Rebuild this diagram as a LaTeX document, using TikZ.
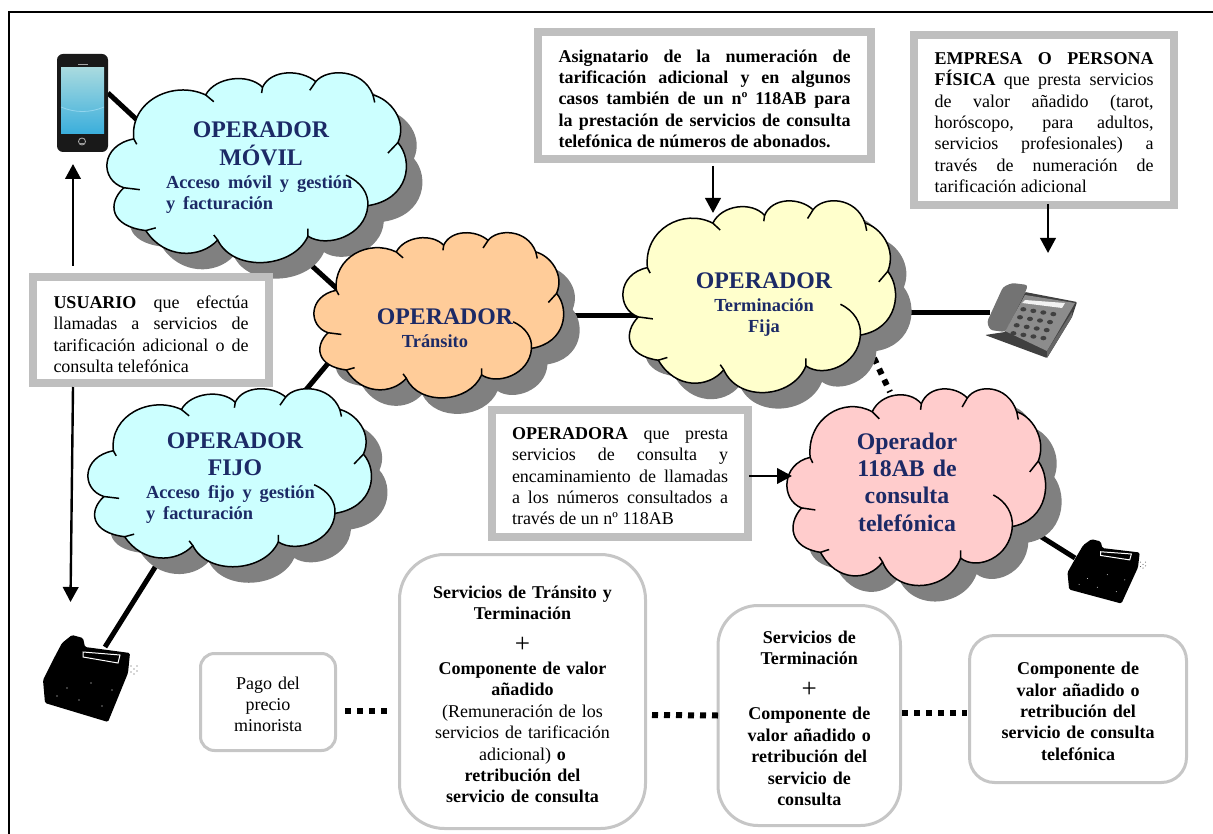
\documentclass[tikz,border=0pt]{standalone}
\usepackage{fontspec}
\setmainfont{Liberation Serif}
\usetikzlibrary{arrows.meta}
\definecolor{navyop}{HTML}{1C2A66}
\definecolor{grisbox}{HTML}{BFBFBF}
\definecolor{grisround}{HTML}{C6C6C6}
\definecolor{sombra}{HTML}{808080}
\definecolor{cieloop}{HTML}{CCFFFF}
\definecolor{naranjaop}{HTML}{FFCC99}
\definecolor{amarilloop}{HTML}{FFFFCC}
\definecolor{rosaop}{HTML}{FFCCCC}
\definecolor{pantallaA}{HTML}{A8DADF}
\definecolor{pantallaB}{HTML}{1B6DB5}
\definecolor{pantallaC}{HTML}{3AAEDC}
\pgfdeclarelayer{conn}
\pgfdeclarelayer{nube}
\pgfsetlayers{conn,nube,main}
\tikzset{
  framebox/.style={draw=grisbox,line width=8pt,fill=white,inner sep=0pt,outer sep=0pt,align=justify,
    font=\fontsize{18}{21.4}\selectfont\sloppy},
  roundbox/.style={draw=grisround,line width=3pt,fill=white,inner sep=0pt,outer sep=0pt,align=center,
    font=\fontsize{18}{21.4}\selectfont},
  optext/.style={text=navyop,inner sep=0pt,outer sep=0pt,anchor=base,align=center,
    font=\fontsize{23.8}{27.4}\selectfont\bfseries},
  phonebox/.style={inner sep=0pt,outer sep=0pt},
  linea/.style={line width=5pt},
  puntos/.style={line width=6pt,dash pattern=on 6pt off 6pt},
  flecha/.style={line width=2.4pt,-{Triangle[width=15.5pt,length=15pt]}}
}
\newcommand{\subop}{\par\vspace{2pt}\fontsize{18.4}{21}\selectfont\bfseries}
\newcommand{\masop}{\par{\fontsize{27}{33}\selectfont +\par}\vspace{.5pt}}
\newcommand{\tope}[1]{\rule{0pt}{#1}}
\newcommand{\fin}{\rule[-4pt]{0pt}{0pt}}
\newcommand{\cloudpath}{
  (5.6,60) .. controls (-2.5,56) and (-2.3,38) .. (8.9,34.7)
  .. controls (7.5,15) and (22,4) .. (32.8,11.9)
  .. controls (36,2.5) and (47,.5) .. (51.7,7.9)
  .. controls (54.5,-1.5) and (64.5,-1.5) .. (69.4,5)
  .. controls (73,-2) and (85,-2) .. (88.4,11.9)
  .. controls (94,14) and (100,25) .. (96.7,36.6)
  .. controls (102,46) and (100.5,66) .. (86.7,69.3)
  .. controls (86,85) and (73,91.5) .. (66.8,85.1)
  .. controls (62,102) and (42,104) .. (36.8,87.1)
  .. controls (31,97) and (19,97) .. (12.9,82.2)
  .. controls (1,80) and (0,68) .. (5.6,60) -- cycle}
% x, y, width, height, fill
\newcommand{\opcloud}[5]{
  \begin{pgfonlayer}{nube}
  \begin{scope}[shift={(#1,#2)},x=#3*0.01pt,y=-#4*0.01pt]
    \fill[sombra,xshift=16pt,yshift=-16pt] \cloudpath;
    \draw[fill=#5,line width=1.5pt,line join=round] \cloudpath;
    \draw[line width=1.5pt] (8.9,34.7) -- (9.9,37.5) (32.8,11.9) -- (35.5,15.4) (51.7,7.9) -- (51.4,10.9)
      (69.4,5) -- (67.4,9.5) (88.4,11.9) -- (89,15.8) (96.7,36.6) -- (93.4,42)
      (66.8,85.1) -- (66.8,81.2) (36.8,87.1) -- (35.5,84.5) (12.9,82.2) -- (16.2,80.8) (5.6,60) -- (10.9,61);
    \draw[line width=1.5pt] (79.4,53.5) .. controls (84.5,57) and (87,63) .. (86.7,69.3);
  \end{scope}
  \end{pgfonlayer}
}
\newcommand{\blackphone}[4]{
  \begin{scope}[shift={(#1,#2)},xscale=#3,yscale=#4]
    \fill[black,rounded corners=1.5pt] (-25,-35) -- (-15,-43) -- (-4,-40) -- (-2,-31) -- (43,-25) -- (41,-5)
      -- (21,44) -- (-42,25) -- (-44,2) -- (-34,-18) -- cycle;
    \draw[white,line width=1pt] (-4,-26) -- (33,-23) -- (31,-15) -- (-4,-21) -- cycle;
    \foreach \px/\py in {-20/10,-8/22,4/5,15/28,-30/18,25/12}
      \fill[white] (\px,\py) circle (.6pt);
    \foreach \px/\py in {44/-12,47/-9,50/-12,44/-6,47/-4,50/-7}
      \fill[black!70] (\px,\py) circle (.7pt);
  \end{scope}
}
\begin{document}
\begin{tikzpicture}[x=1pt,y=-1pt]
\useasboundingbox (0,0) rectangle (1213,834);
\draw[line width=2pt] (8.5,834) -- (8.5,12) -- (1213,12);
% nubes
\opcloud{107}{72}{301}{193}{cieloop}
\opcloud{314}{232}{251}{168}{naranjaop}
\opcloud{623}{200}{274}{195}{amarilloop}
\opcloud{88}{388}{285}{181}{cieloop}
\opcloud{787}{388}{260}{200}{rosaop}
\node[optext,text width=190pt] (movil) at (261,138) {OPERADOR\\MÓVIL\subop\raggedright Acceso móvil y gestión\\y facturación\par};
\node[optext,text width=178pt] (fijo) at (235,448) {OPERADOR\\FIJO\subop\raggedright Acceso fijo y gestión\\y facturación\par};
\node[optext,text width=140pt] (transito) at (445,325) {OPERADOR\subop\hspace*{-20pt}Tránsito\par};
\node[optext,text width=140pt] (terminacion) at (764,289) {OPERADOR\subop Terminación\\Fija\par};
\node[optext,text width=140pt] (consulta) at (907,449) {Operador\\118AB de\\consulta\\telefónica};
% cuadros
\node[framebox,text width=195pt,minimum width=236pt,minimum height=106pt] (usuario) at (151,330)
  {\tope{25pt}\textbf{USUARIO} que efectúa\linebreak llamadas a servicios de\linebreak tarificación adicional o de\linebreak consulta telefónica\fin};
\node[framebox,text width=292pt,minimum width=333pt,minimum height=127pt] (asignatario) at (704.5,95.5)
  {\tope{23pt}\bfseries Asignatario de la numeración de\linebreak tarificación adicional y en algunos\linebreak casos también de un nº 118AB para\linebreak la prestación de servicios de consulta\linebreak telefónica de números de abonados.\fin};
\node[framebox,line width=7.5pt,text width=219pt,minimum width=260pt,minimum height=170pt] (empresa) at (1044,120)
  {\tope{21pt}\textbf{EMPRESA O PERSONA}\linebreak \textbf{FÍSICA} que presta servicios\linebreak de valor añadido (tarot,\linebreak horóscopo, para adultos,\linebreak servicios profesionales) a\linebreak través de numeración de\linebreak tarificación adicional\fin};
\node[framebox,text width=216pt,minimum width=256pt,minimum height=127pt] (operadora) at (620,473.5)
  {\tope{21pt}\textbf{OPERADORA} que presta\linebreak servicios de consulta y\linebreak encaminamiento de llamadas\linebreak a los números consultados a\linebreak través de un nº 118AB\fin};
\node[roundbox,rounded corners=14pt,text width=120pt,minimum width=135pt,minimum height=97pt] (pago) at (268,702)
  {\tope{21pt}Pago del\\precio\\minorista\fin};
\node[roundbox,rounded corners=45pt,text width=232pt,minimum width=246pt,minimum height=274pt] (sertransito) at (522.5,691.5)
  {\tope{22pt}\textbf{Servicios de Tránsito y\\Terminación}\masop\textbf{Componente de valor\\añadido}\\(Remuneración de los\\servicios de tarificación\\adicional) \textbf{o}\\\textbf{retribución del\\servicio de consulta}\fin};
\node[roundbox,rounded corners=40pt,text width=170pt,minimum width=182.5pt,minimum height=220pt] (serterminacion) at (809.25,715.5)
  {\tope{22pt}\textbf{Servicios de\\Terminación}\masop\textbf{Componente de\\valor añadido o\\retribución del\\servicio de\\consulta}\fin};
\node[roundbox,rounded corners=25pt,text width=200pt,minimum width=217pt,minimum height=147pt] (componente) at (1078,709)
  {\tope{21pt}\textbf{Componente de\\valor añadido o\\retribución del\\servicio de consulta\\telefónica}\fin};
% telefonos
\node[phonebox,fill=black!90,rounded corners=6pt,minimum width=51pt,minimum height=98pt] (smartphone) at (82.5,103) {};
\shade[top color=pantallaA,middle color=pantallaB,bottom color=pantallaC] (61,68) rectangle (104,134);
\draw[white!70!cyan,line width=.8pt,opacity=.6] (61,107) .. controls (75,113) and (90,113) .. (104,107);
\draw[gray!70,line width=1pt] (78,65) -- (88,65);
\draw[gray!60,line width=.8pt] (82,141.5) circle (3.5pt);
\draw[gray!80,line width=1pt] (79,144) -- (85,144);
\node[phonebox,minimum width=87pt,minimum height=87pt] (telfijo) at (87,678) {};
\blackphone{87}{678}{1}{1}
\node[phonebox,minimum width=72pt,minimum height=64pt] (telconsulta) at (1104,571) {};
\blackphone{1104}{571}{.83}{.74}
\node[phonebox,minimum width=92pt,minimum height=78pt] (telgris) at (1031,320) {};
\fill[black!75,rounded corners=1pt] (985,335) -- (1047,358) -- (1072,317) -- (1077,302) -- (1025,292) -- (1005,332) -- cycle;
\fill[black!45] (1025,295) -- (1075,303) -- (1047,351) -- (1005,331) -- cycle;
\fill[black!60] (1047,351) -- (1047,358) -- (1072,317) -- (1072,312) -- cycle;
\fill[white!90!gray] (1025,300) -- (1065,303) -- (1062,308) -- (1022,303) -- cycle;
\foreach \i in {0,...,3}
  \foreach \j in {0,...,3}
    \fill[black!75] ({1023.3+10*\j-3.3*\i},{309.3+1.6*\j+8*\i}) ellipse (3pt and 2.2pt);
\fill[black!55,rounded corners=3pt] (1003,287) -- (1012,283) -- (1028,285) -- (1025,293) -- (1005,332) -- (990,330) -- (987,322) -- cycle;
% flechas
\draw[flecha] ([shift={(-78,-11)}]usuario.north) -- ([shift={(-9.5,12)}]smartphone.south);
\draw[flecha] ([shift={(-78,4)}]usuario.south) -- ([shift={(-16.5,-32.5)}]telfijo.north);
\draw[flecha] ([shift={(8.5,7)}]asignatario.south) -- ([shift={(-51,-76)}]terminacion.base);
\draw[flecha] ([shift={(4,-1)}]empresa.south) -- ([shift={(17,-28)}]telgris.north);
\draw[flecha] ([shift={(1,2.5)}]operadora.east) -- ([shift={(-115,27)}]consulta.base);
% conexiones
\begin{pgfonlayer}{conn}
\draw[linea] ([shift={(0,-10)}]smartphone.east) -- ([shift={(-111,-6)}]movil.base);
\draw[linea] ([shift={(39,117)}]movil.base) -- ([shift={(-100,-29)}]transito.base);
\draw[linea] ([shift={(-105,24)}]transito.base) -- ([shift={(60,-45)}]fijo.base);
\draw[linea] ([shift={(-66,97)}]fijo.base) -- ([shift={(18,-31)}]telfijo.center);
\draw[linea] ([shift={(95,-9)}]transito.base) -- ([shift={(-104,27)}]terminacion.base);
\draw[linea] ([shift={(106,24)}]terminacion.base) -- ([shift={(-41,-7)}]telgris.center);
\draw[puntos] ([shift={(110,69)}]terminacion.base) -- ([shift={(-17,-57)}]consulta.base);
\draw[linea] ([shift={(133,87)}]consulta.base) -- ([shift={(-29,-13)}]telconsulta.center);
\end{pgfonlayer}
\draw[puntos] ([shift={(9.5,9)}]pago.east) -- ([shift={(-6.5,19.5)}]sertransito.west);
\draw[puntos] ([shift={(6.5,23.5)}]sertransito.east) -- (serterminacion.west);
\draw[puntos] ([shift={(1.5,-2.5)}]serterminacion.east) -- ([shift={(-2.5,4)}]componente.west);
\end{tikzpicture}
\end{document}
